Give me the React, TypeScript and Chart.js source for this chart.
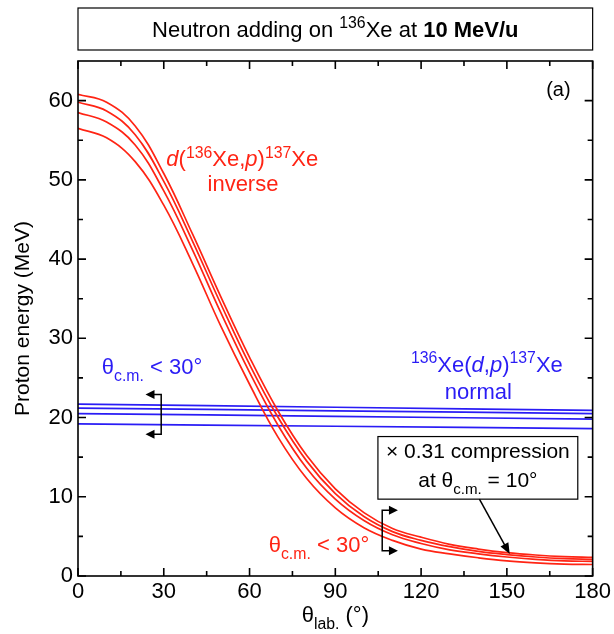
import React, { useEffect, useRef } from 'react';
import { Chart, registerables } from 'chart.js';

Chart.register(...registerables);

const FONT = '"Liberation Sans", Arial, sans-serif';

// ---- data ----
const redAngles = [0, 10, 20, 30, 40, 50, 60, 70, 80, 90, 100, 110, 120, 130, 140, 150, 160, 170, 180];
const redE1 = [60.8, 59.8, 56.8, 50.8, 43.2, 35.2, 27.6, 20.8, 15.2, 11.0, 8.0, 6.0, 4.9, 4.0, 3.4, 2.95, 2.65, 2.45, 2.35];
const redE2 = [59.8, 58.7, 55.7, 49.8, 42.3, 34.3, 26.7, 20.0, 14.5, 10.4, 7.5, 5.6, 4.5, 3.7, 3.1, 2.7, 2.4, 2.2, 2.1];
const redE3 = [58.5, 57.3, 54.4, 48.6, 41.2, 33.2, 25.7, 19.0, 13.6, 9.7, 7.0, 5.2, 4.1, 3.3, 2.8, 2.4, 2.1, 1.9, 1.85];
const redE4 = [56.5, 55.3, 52.3, 46.8, 39.5, 31.5, 24.2, 17.5, 12.3, 8.6, 6.1, 4.5, 3.4, 2.8, 2.3, 1.9, 1.65, 1.5, 1.45];

const blueAngles = [0, 90, 180];
const blueE1 = [21.7, 21.3, 20.9];
const blueE2 = [21.2, 20.85, 20.5];
const blueE3 = [20.5, 20.15, 19.8];
const blueE4 = [19.2, 18.9, 18.6];

const xMajor = [0, 30, 60, 90, 120, 150, 180];
const xMinor = [15, 45, 75, 105, 135, 165];
const yMajor = [0, 10, 20, 30, 40, 50, 60];
const yMinor = [5, 15, 25, 35, 45, 55];

const RED = '#ff2414';
const BLUE = '#2a1cf5';
const TXT = 22;

type Seg = { t: string; sup?: boolean; sub?: boolean; it?: boolean; b?: boolean };

function segFont(s: Seg, size: number) {
  const sz = s.sup || s.sub ? size * 0.72 : size;
  return `${s.it ? 'italic ' : ''}${s.b ? 'bold ' : ''}${sz}px ${FONT}`;
}

function drawRich(ctx: CanvasRenderingContext2D, segs: Seg[], x: number, y: number, align: 'left' | 'center' | 'right', size: number, color: string) {
  ctx.save();
  ctx.textBaseline = 'alphabetic';
  ctx.textAlign = 'left';
  let w = 0;
  const ws: number[] = [];
  for (const s of segs) {
    ctx.font = segFont(s, size);
    const m = ctx.measureText(s.t).width;
    ws.push(m);
    w += m;
  }
  let cx = align === 'center' ? x - w / 2 : align === 'right' ? x - w : x;
  ctx.fillStyle = color;
  segs.forEach((s, i) => {
    ctx.font = segFont(s, size);
    const dy = s.sup ? -size * 0.4 : s.sub ? size * 0.3 : 0;
    ctx.fillText(s.t, cx, y + dy);
    cx += ws[i];
  });
  ctx.restore();
}

function arrowHead(ctx: CanvasRenderingContext2D, x0: number, y0: number, x1: number, y1: number, len: number, half: number) {
  const a = Math.atan2(y1 - y0, x1 - x0);
  ctx.beginPath();
  ctx.moveTo(x1, y1);
  ctx.lineTo(x1 - len * Math.cos(a) + half * Math.sin(a), y1 - len * Math.sin(a) - half * Math.cos(a));
  ctx.lineTo(x1 - len * Math.cos(a) - half * Math.sin(a), y1 - len * Math.sin(a) + half * Math.cos(a));
  ctx.closePath();
  ctx.fill();
}

const decorPlugin = {
  id: 'decor',
  afterDraw(chart: any) {
    const ctx: CanvasRenderingContext2D = chart.ctx;
    const xs = chart.scales.x;
    const ys = chart.scales.y;
    const { left, right, top, bottom } = chart.chartArea;
    const px = (v: number) => xs.getPixelForValue(v);
    const py = (v: number) => ys.getPixelForValue(v);

    ctx.save();
    // frame
    ctx.strokeStyle = '#000';
    ctx.lineWidth = 1.6;
    ctx.strokeRect(left, top, right - left, bottom - top);

    // inward ticks
    const tick = (vals: number[], len: number) => {
      ctx.beginPath();
      for (const v of vals) {
        const x = px(v);
        ctx.moveTo(x, bottom); ctx.lineTo(x, bottom - len);
        ctx.moveTo(x, top); ctx.lineTo(x, top + len);
      }
      ctx.stroke();
    };
    const ytick = (vals: number[], len: number) => {
      ctx.beginPath();
      for (const v of vals) {
        const y = py(v);
        ctx.moveTo(left, y); ctx.lineTo(left + len, y);
        ctx.moveTo(right, y); ctx.lineTo(right - len, y);
      }
      ctx.stroke();
    };
    tick(xMajor, 8); tick(xMinor, 5);
    ytick(yMajor, 8); ytick(yMinor, 5);

    // title box
    ctx.lineWidth = 1.2;
    ctx.strokeRect(left, 8, right - left, 42);
    drawRich(ctx, [
      { t: 'Neutron adding on ' }, { t: '136', sup: true }, { t: 'Xe at ' }, { t: '10 MeV/u', b: true },
    ], (left + right) / 2, 37, 'center', 22, '#000');

    // axis titles
    ctx.save();
    ctx.translate(22, (top + bottom) / 2);
    ctx.rotate(-Math.PI / 2);
    drawRich(ctx, [{ t: 'Proton energy (MeV)' }], 0, 7, 'center', 21, '#000');
    ctx.restore();
    drawRich(ctx, [{ t: 'θ' }, { t: 'lab.', sub: true }, { t: ' (°)' }], (left + right) / 2, 622, 'center', 22, '#000');

    // (a)
    drawRich(ctx, [{ t: '(a)' }], px(172.3), py(60.6), 'right', 20, '#000');

    // red labels
    drawRich(ctx, [
      { t: 'd', it: true }, { t: '(' }, { t: '136', sup: true }, { t: 'Xe,' }, { t: 'p', it: true }, { t: ')' }, { t: '137', sup: true }, { t: 'Xe' },
    ], px(30.9), py(51.7), 'left', TXT, RED);
    drawRich(ctx, [{ t: 'inverse' }], px(57.7), py(48.6), 'center', TXT, RED);
    drawRich(ctx, [{ t: 'θ' }, { t: 'c.m.', sub: true }, { t: ' < 30°' }], px(66.7), py(3.0), 'left', TXT, RED);

    // blue labels
    drawRich(ctx, [
      { t: '136', sup: true }, { t: 'Xe(' }, { t: 'd', it: true }, { t: ',' }, { t: 'p', it: true }, { t: ')' }, { t: '137', sup: true }, { t: 'Xe' },
    ], px(143.0), py(25.8), 'center', TXT, BLUE);
    drawRich(ctx, [{ t: 'normal' }], px(140.0), py(22.3), 'center', TXT, BLUE);
    drawRich(ctx, [{ t: 'θ' }, { t: 'c.m.', sub: true }, { t: ' < 30°' }], px(8.3), py(25.5), 'left', TXT, BLUE);

    // brackets
    ctx.strokeStyle = '#000';
    ctx.fillStyle = '#000';
    ctx.lineWidth = 1.5;
    const bracket = (xv: number, xtip: number, y1: number, y2: number) => {
      const x = px(xv), xt = px(xtip), a = py(y1), b = py(y2);
      ctx.beginPath();
      ctx.moveTo(xt + (xt > x ? -8 : 8), a); ctx.lineTo(x, a); ctx.lineTo(x, b); ctx.lineTo(xt + (xt > x ? -8 : 8), b);
      ctx.stroke();
      arrowHead(ctx, x, a, xt, a, 9, 4.5);
      arrowHead(ctx, x, b, xt, b, 9, 4.5);
    };
    bracket(29.1, 23.6, 22.9, 17.9);
    bracket(106.4, 111.9, 8.3, 3.2);

    // compression box
    const bx0 = px(104.9), bx1 = px(174.8), by0 = py(17.6), by1 = py(9.7);
    ctx.fillStyle = '#fff';
    ctx.fillRect(bx0, by0, bx1 - bx0, by1 - by0);
    ctx.lineWidth = 1.2;
    ctx.strokeRect(bx0, by0, bx1 - bx0, by1 - by0);
    drawRich(ctx, [{ t: '× 0.31 compression' }], (bx0 + bx1) / 2, py(14.9), 'center', 21, '#000');
    drawRich(ctx, [{ t: 'at θ' }, { t: 'c.m.', sub: true }, { t: ' = 10°' }], (bx0 + bx1) / 2, py(11.2), 'center', 21, '#000');
    // arrow to curves
    const ax0 = px(140.4), ay0 = py(9.7), ax1 = px(151.0), ay1 = py(2.77);
    ctx.lineWidth = 1.5;
    ctx.fillStyle = '#000';
    const ang = Math.atan2(ay1 - ay0, ax1 - ax0);
    ctx.beginPath();
    ctx.moveTo(ax0, ay0);
    ctx.lineTo(ax1 - 8 * Math.cos(ang), ay1 - 8 * Math.sin(ang));
    ctx.stroke();
    arrowHead(ctx, ax0, ay0, ax1, ay1, 11, 4.5);

    ctx.restore();
  },
};

function mk(xs: number[], ys: number[], color: string) {
  return {
    data: xs.map((x, i) => ({ x, y: ys[i] })),
    borderColor: color,
    borderWidth: 1.7,
    pointRadius: 0,
    fill: false,
    tension: 0.4,
  };
}

export default function App() {
  const ref = useRef<HTMLCanvasElement | null>(null);
  useEffect(() => {
    if (!ref.current) return;
    const chart = new Chart(ref.current, {
      type: 'line',
      data: {
        datasets: [
          mk(redAngles, redE1, RED),
          mk(redAngles, redE2, RED),
          mk(redAngles, redE3, RED),
          mk(redAngles, redE4, RED),
          mk(blueAngles, blueE1, BLUE),
          mk(blueAngles, blueE2, BLUE),
          mk(blueAngles, blueE3, BLUE),
          mk(blueAngles, blueE4, BLUE),
        ] as any,
      },
      options: {
        animation: false,
        responsive: false,
        devicePixelRatio: 1,
        layout: { padding: { top: 61, right: 18, left: 0, bottom: 0 } },
        plugins: { legend: { display: false }, tooltip: { enabled: false } },
        scales: {
          x: {
            type: 'linear',
            min: 0,
            max: 180,
            grid: { display: false, drawTicks: false },
            border: { display: false },
            afterBuildTicks: (s: any) => { s.ticks = xMajor.map((v) => ({ value: v })); },
            afterFit: (s: any) => { s.height = 58; },
            ticks: { color: '#000', font: { family: FONT, size: 22 }, padding: 3, maxRotation: 0, autoSkip: false },
          },
          y: {
            type: 'linear',
            min: 0,
            max: 65,
            grid: { display: false, drawTicks: false },
            border: { display: false },
            afterBuildTicks: (s: any) => { s.ticks = yMajor.map((v) => ({ value: v })); },
            afterFit: (s: any) => { s.width = 78; },
            ticks: { color: '#000', font: { family: FONT, size: 22 }, padding: 5, autoSkip: false },
          },
        },
      },
      plugins: [decorPlugin],
    });
    return () => chart.destroy();
  }, []);
  return (
    <div style={{ position: 'fixed', left: 0, top: 0, width: 614, height: 634, background: '#fff' }}>
      <canvas ref={ref} width={614} height={634} style={{ display: 'block' }} />
    </div>
  );
}
